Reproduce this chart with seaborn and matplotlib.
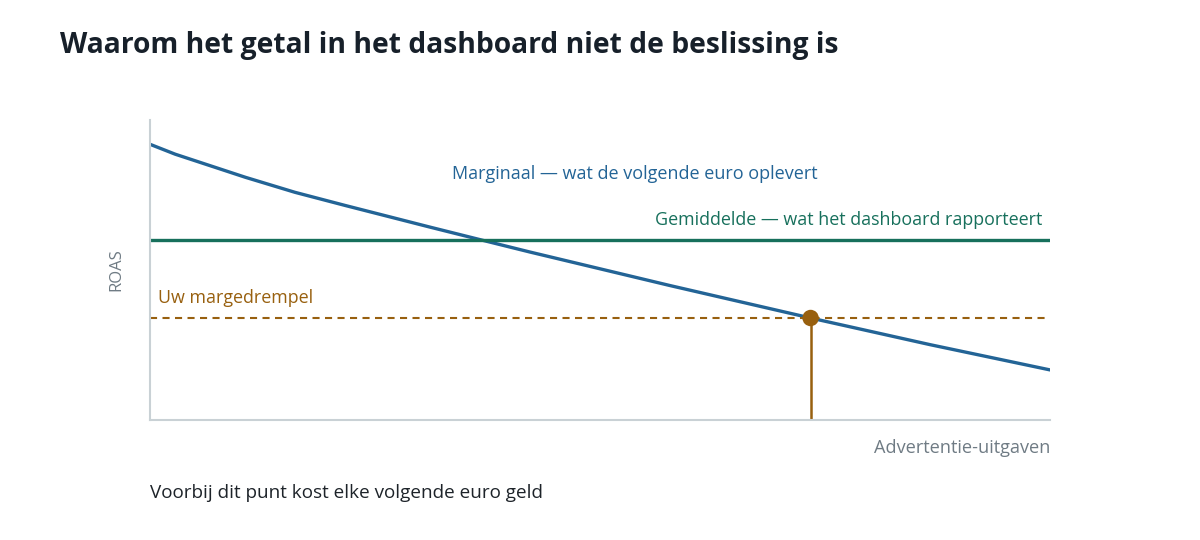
import numpy as np
import pandas as pd
import seaborn as sns
import matplotlib.pyplot as plt

# curve (spend 0..100, ROAS 0..100 arbitrary units)
spend = [0, 2.8, 10.6, 16.1, 21.7, 26.4, 31.1, 36.7, 42.2, 57.8, 73.4, 86.7, 100]
marginal_roas = [91.9, 88.6, 80.9, 75.9, 71.5, 67.9, 64.3, 60.1, 56.0, 44.8, 34, 25.1, 16.7]
average_roas = 60
threshold = 34
break_even_x = 73.4

BLUE = '#236496'
GREEN = '#17705c'
BROWN = '#98600f'
GREY = '#6f7b84'
SPINE = '#c9d1d5'

sns.set_style('white')
plt.rcParams['font.family'] = ['Open Sans', 'DejaVu Sans']

fig = plt.figure(figsize=(12, 5.4), dpi=100)
ax = fig.add_axes([0.125, 0.2222, 0.75, 0.5556])

df = pd.DataFrame({'spend': spend, 'roas': marginal_roas})
sns.lineplot(data=df, x='spend', y='roas', ax=ax, color=BLUE, linewidth=2.4)
ax.axhline(average_roas, color=GREEN, linewidth=2.4)
ax.axhline(threshold, color=BROWN, linewidth=1.5, linestyle=(0, (3.4, 2.6)))
ax.plot([break_even_x, break_even_x], [0, threshold], color=BROWN, linewidth=1.8)
sns.scatterplot(x=[break_even_x], y=[threshold], ax=ax, color=BROWN, s=140, zorder=5, edgecolor='none')

ax.set_xlim(0, 100)
ax.set_ylim(0, 100)
ax.set_xticks([])
ax.set_yticks([])
ax.set_xlabel('')
ax.set_ylabel('')
for s in ['top', 'right']:
    ax.spines[s].set_visible(False)
for s in ['left', 'bottom']:
    ax.spines[s].set_color(SPINE)
    ax.spines[s].set_linewidth(1.5)

# labels in the chart
ax.text(53.9, 82, 'Marginaal \u2014 wat de volgende euro oplevert', color=BLUE,
        fontsize=13, ha='center', va='center')
ax.text(99.1, 66.7, 'Gemiddelde \u2014 wat het dashboard rapporteert', color=GREEN,
        fontsize=12.9, ha='right', va='center')
ax.text(0.9, 40.7, 'Uw margedrempel', color=BROWN, fontsize=12.9, ha='left', va='center')

fig.text(116 / 1200, 1 - 270 / 540, 'ROAS', color=GREY, fontsize=12, rotation=90,
         ha='center', va='center')
fig.text(1050 / 1200, 1 - 448 / 540, 'Advertentie-uitgaven', color=GREY, fontsize=13.1,
         ha='right', va='center')
fig.text(150 / 1200, 1 - 493 / 540, 'Voorbij dit punt kost elke volgende euro geld',
         color='#1d2329', fontsize=13.6, ha='left', va='center')
fig.text(60 / 1200, 1 - 46 / 540, 'Waarom het getal in het dashboard niet de beslissing is',
         color='#17202a', fontsize=20.3, fontweight='bold', ha='left', va='center')

fig.savefig('out.png', dpi=100, facecolor='white')
